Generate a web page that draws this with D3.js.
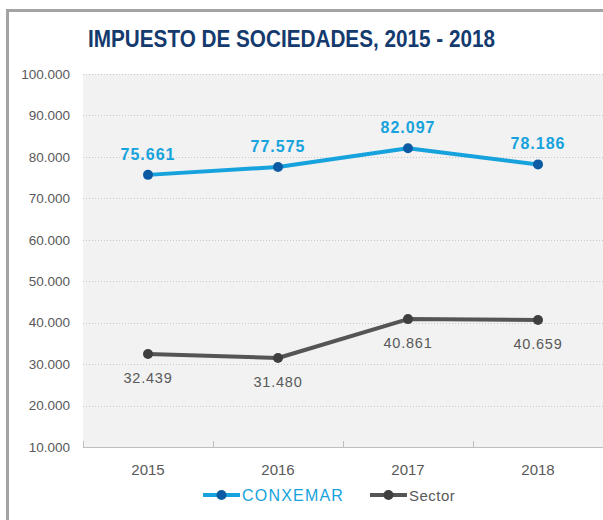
<!DOCTYPE html>
<html><head><meta charset="utf-8">
<script src="https://cdn.jsdelivr.net/npm/d3@7"></script>
<style>body{margin:0;background:#fff}svg{display:block}</style>
</head><body>
<script>
const years = ["2015","2016","2017","2018"];
const conxemar = [75661, 77575, 82097, 78186];
const sector = [32439, 31480, 40861, 40659];
const yTicks = [10000,20000,30000,40000,50000,60000,70000,80000,90000,100000];
const title = "IMPUESTO DE SOCIEDADES, 2015 - 2018";

(function(){
const W = 603, H = 520;
const svg = d3.select("body").append("svg").attr("width", W).attr("height", H);
const fmt = v => d3.format(",")(v).replace(/,/g, ".");

// frame
svg.append("path").attr("d", `M7.5,${H} V10.5 H${W}`).attr("fill","none")
  .attr("stroke","#a3a3a3").attr("stroke-width",3);

svg.append("text").attr("x",88).attr("y",46.5).text(title)
  .attr("font-family","Liberation Sans, Arial, sans-serif").attr("font-weight","bold")
  .attr("font-size",23).attr("fill","#143a6e")
  .attr("textLength",407).attr("lengthAdjust","spacingAndGlyphs");

const pL = 83, pR = 603, pT = 74, pB = 447;
const x = d3.scaleBand().domain(years).range([pL, pR]);
const y = d3.scaleLinear().domain([10000, 100000]).range([pB, pT]);

svg.append("rect").attr("x",pL).attr("y",pT).attr("width",pR-pL).attr("height",pB-pT).attr("fill","#f2f2f2");

// gridlines
svg.append("g").selectAll("line").data(yTicks.filter(t=>t>10000)).join("line")
  .attr("x1",pL).attr("x2",pR).attr("y1",d=>Math.round(y(d))+0.5).attr("y2",d=>Math.round(y(d))+0.5)
  .attr("stroke","#c9c9c9").attr("stroke-dasharray","1,2");

// y axis labels
const yAxis = d3.axisLeft(y).tickValues(yTicks).tickSize(0).tickPadding(13).tickFormat(fmt);
const gy = svg.append("g").attr("transform",`translate(${pL},0)`).call(yAxis);
gy.select(".domain").remove();
gy.selectAll("text").attr("font-family","Liberation Sans, Arial, sans-serif").attr("font-size",13.5).attr("fill","#595959");

// x axis
svg.append("line").attr("x1",pL).attr("x2",pR).attr("y1",pB+0.5).attr("y2",pB+0.5).attr("stroke","#bfbfbf");
const tickXs = years.map(d=>x(d)).concat([pR]);
svg.append("g").selectAll("line").data(tickXs).join("line")
  .attr("x1",d=>Math.round(d)+0.5).attr("x2",d=>Math.round(d)+0.5).attr("y1",pB).attr("y2",pB-6).attr("stroke","#bfbfbf");
svg.append("g").selectAll("text").data(years).join("text")
  .attr("x",d=>x(d)+x.bandwidth()/2).attr("y",475).attr("text-anchor","middle").text(d=>d)
  .attr("font-family","Liberation Sans, Arial, sans-serif").attr("font-size",15).attr("fill","#595959");

const cx = (d,i) => x(years[i]) + x.bandwidth()/2;
const line = d3.line().x((d,i)=>cx(d,i)).y(d=>y(d));

function series(vals, lineColor, dotColor, labelColor, bold, fs, ls, dy){
  const g = svg.append("g");
  g.append("path").datum(vals).attr("d",line).attr("fill","none").attr("stroke",lineColor).attr("stroke-width",4).attr("stroke-linejoin","round");
  g.selectAll("circle").data(vals).join("circle").attr("cx",cx).attr("cy",d=>y(d)).attr("r",5).attr("fill",dotColor);
  g.selectAll("text").data(vals).join("text").attr("x",cx).attr("y",d=>y(d)+dy)
    .attr("text-anchor","middle").text(fmt)
    .attr("font-family","Liberation Sans, Arial, sans-serif").attr("font-size",fs)
    .attr("font-weight",bold?"bold":"normal").attr("letter-spacing",ls).attr("fill",labelColor);
}
series(conxemar, "#16a2dc", "#0b5aa3", "#16a2dc", true, 16, 1, -15);
series(sector, "#555555", "#3f3f3f", "#595959", false, 14.5, 0.8, 29);

// legend
const lg = svg.append("g");
const items = [
  {name:"CONXEMAR", lc:"#16a2dc", dc:"#0b5aa3", tc:"#16a2dc", x0:203, ls:1.2, fs:16},
  {name:"Sector", lc:"#555555", dc:"#3f3f3f", tc:"#595959", x0:370, ls:0.5, fs:15}
];
items.forEach(it=>{
  lg.append("line").attr("x1",it.x0).attr("x2",it.x0+37).attr("y1",495).attr("y2",495).attr("stroke",it.lc).attr("stroke-width",4);
  lg.append("circle").attr("cx",it.x0+18.5).attr("cy",495).attr("r",5).attr("fill",it.dc);
  lg.append("text").attr("x",it.x0+39).attr("y",500.5).text(it.name)
    .attr("font-family","Liberation Sans, Arial, sans-serif").attr("font-size",it.fs)
    .attr("letter-spacing",it.ls).attr("fill",it.tc);
});
})();
</script>
</body></html>
